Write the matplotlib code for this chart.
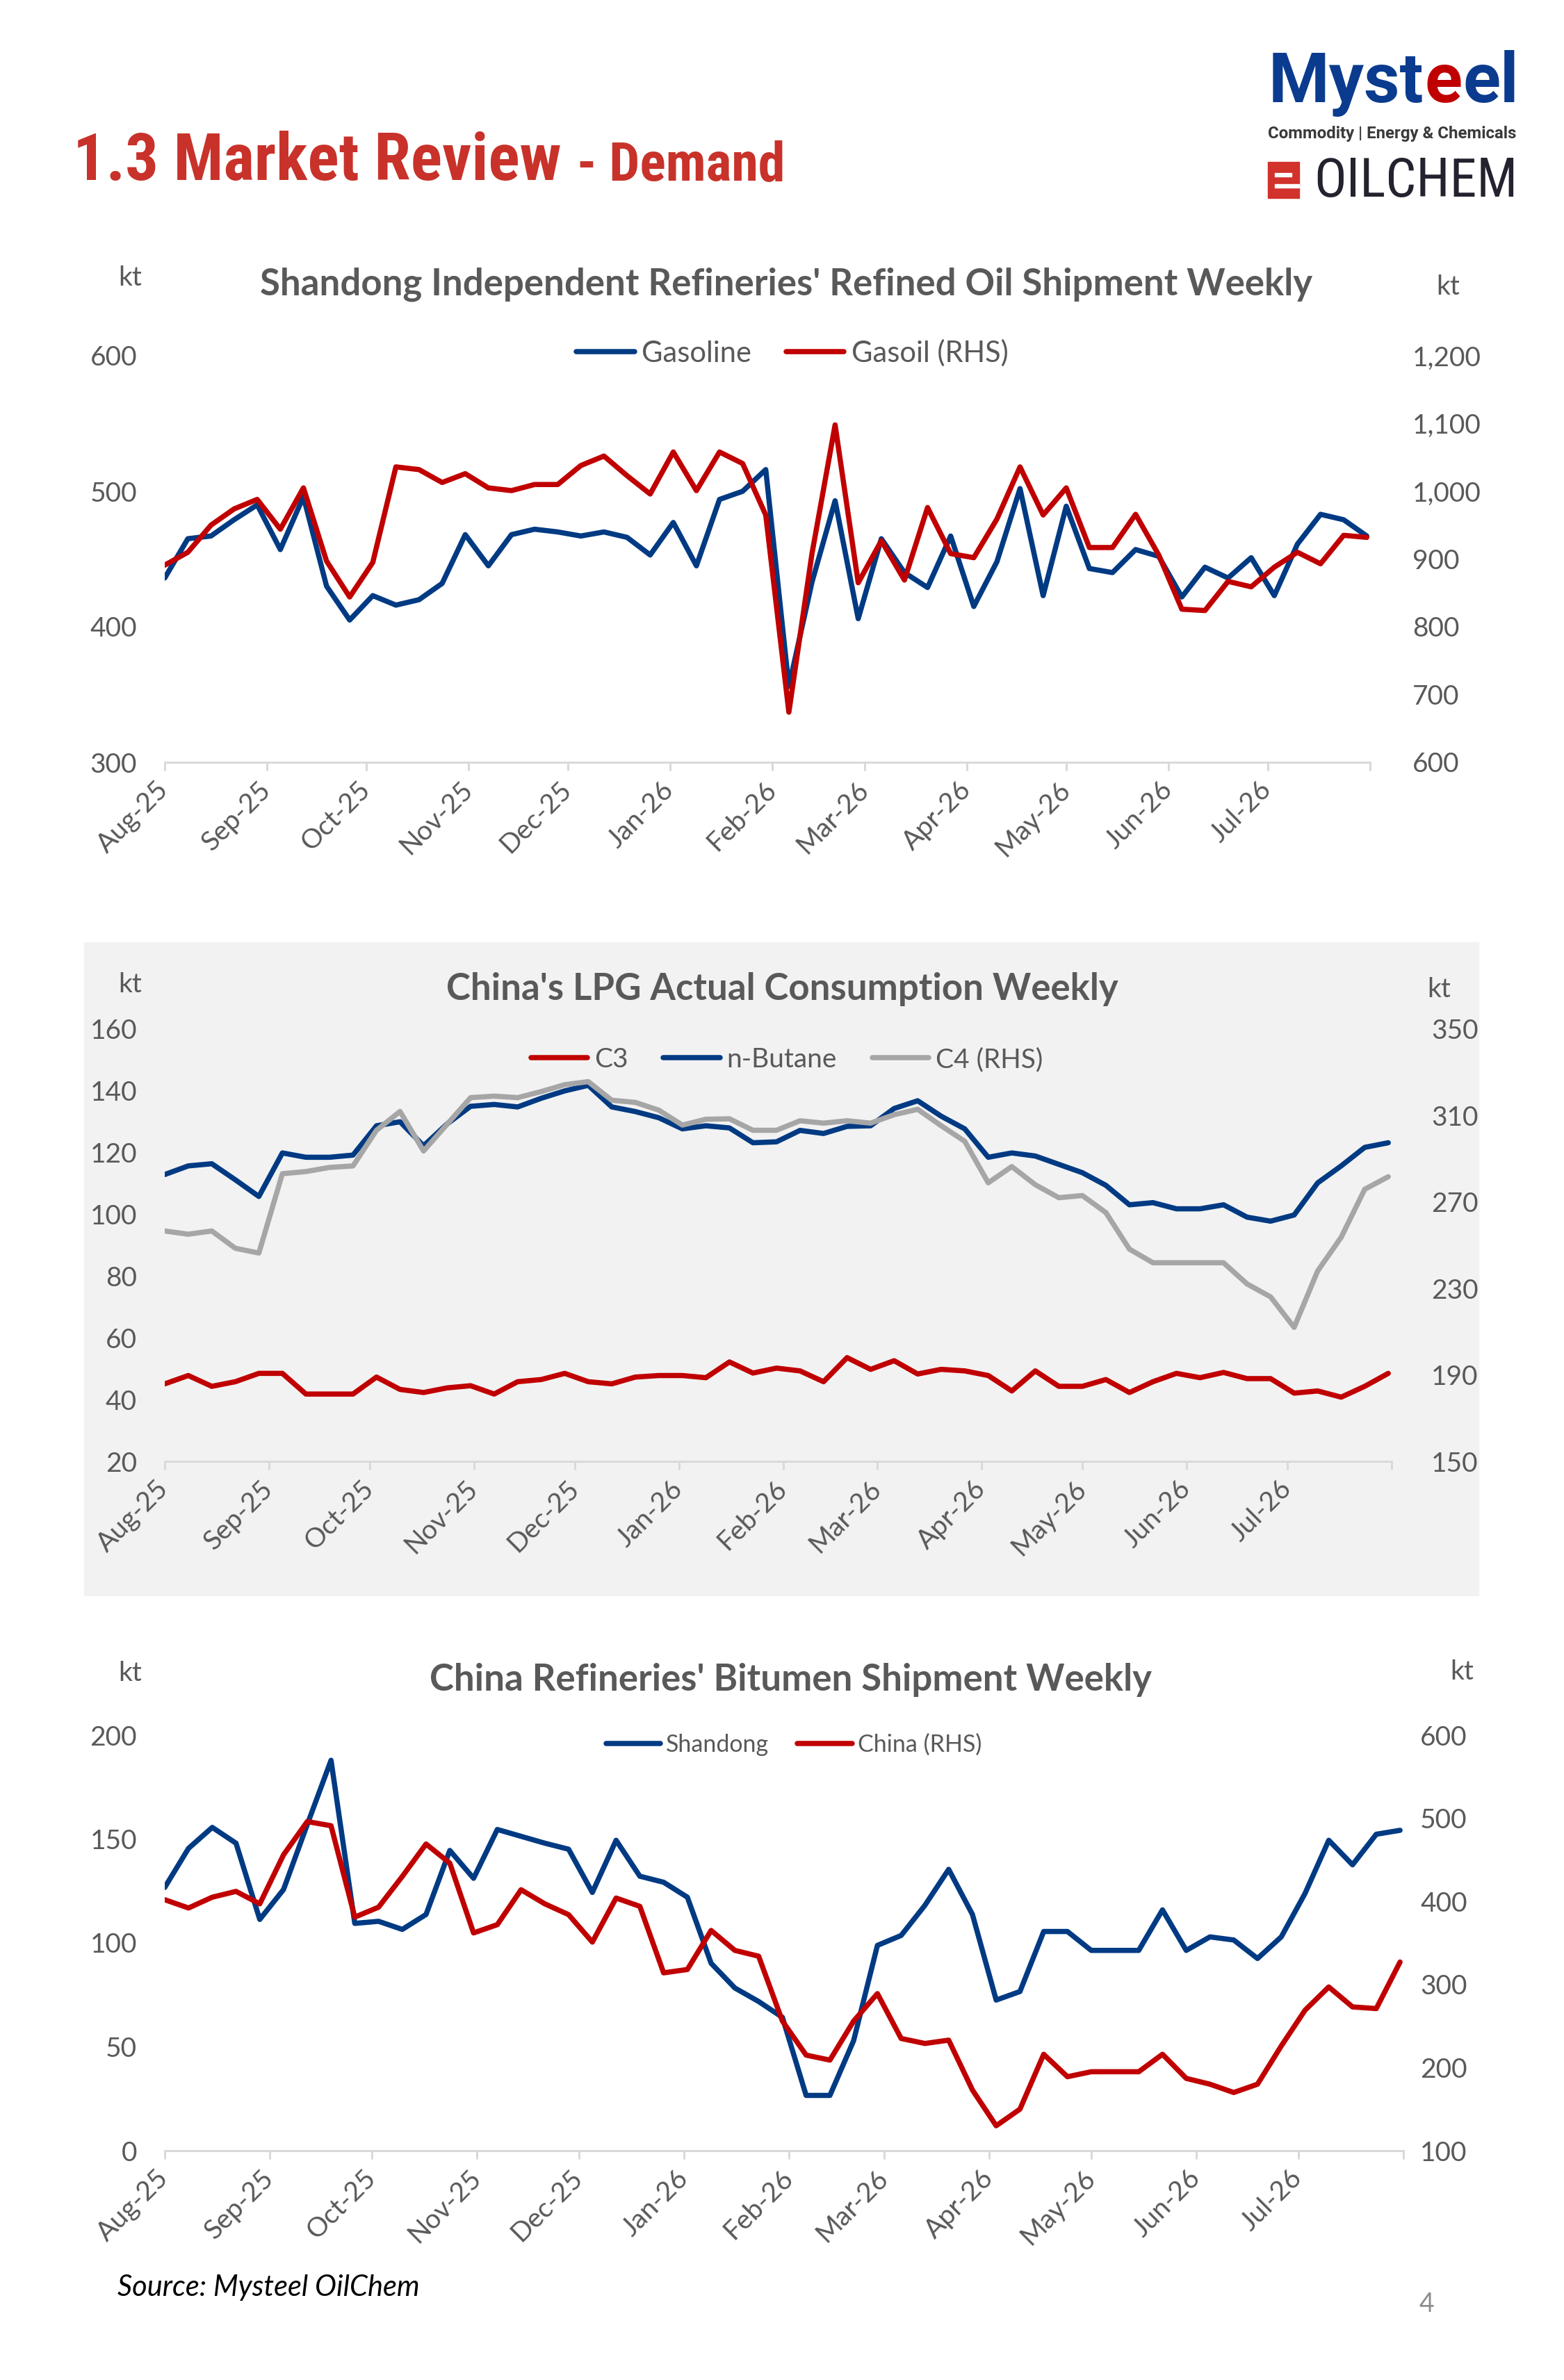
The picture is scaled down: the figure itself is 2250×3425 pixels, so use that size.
import pandas as pd
import matplotlib
matplotlib.use('Agg')
import matplotlib.pyplot as plt
from matplotlib import font_manager
from matplotlib.patches import Rectangle

plt.rcParams['font.family'] = ['Lato', 'DejaVu Sans']

W, H = 2250, 3425

# weekly dates and month ticks
weeks = pd.date_range('2025-08-01', periods=53, freq='7D')
month_ticks = pd.date_range('2025-08-01', '2026-08-01', freq='MS')
month_labels = [d.strftime('%b-%y') for d in month_ticks[:-1]] + ['']

# chart 1: Shandong refined oil shipment (kt)
gasoline = [436, 465, 467, 479, 490, 457, 496, 430, 405, 423, 416, 420, 432, 468,
            445, 468, 472, 470, 467, 470, 466, 453, 477, 445, 494, 500, 516, 356,
            433, 493, 406, 465, 440, 429, 467, 415, 448, 502, 423, 489, 443, 440,
            457, 452, 422, 444, 436, 451, 423, 461, 483, 479, 467]
gasoil = [891, 910, 950, 974, 988, 944, 1005, 897, 844, 895, 1036, 1032, 1013, 1026,
          1005, 1001, 1010, 1010, 1038, 1052, 1023, 996, 1058, 1001, 1058, 1041, 965, 674,
          908, 1098, 865, 927, 869, 976, 908, 902, 959, 1036, 965, 1005, 917, 917,
          966, 906, 826, 824, 867, 859, 888, 910, 893, 935, 932]

# chart 2: China LPG actual consumption (kt)
c3 = [45.1, 47.8, 44.3, 45.8, 48.5, 48.5, 41.8, 41.8, 41.8, 47.3, 43.3, 42.3, 43.8, 44.5,
      41.8, 45.8, 46.5, 48.5, 45.8, 45.1, 47.3, 47.8, 47.8, 47.1, 52.2, 48.6, 50.2, 49.3,
      45.8, 53.6, 49.8, 52.6, 48.3, 49.8, 49.3, 47.8, 42.8, 49.3, 44.3, 44.3, 46.5, 42.3,
      45.8, 48.5, 47.1, 48.8, 46.8, 46.8, 42.1, 42.8, 40.8, 44.3, 48.5]
n_butane = [112.9, 115.7, 116.4, 111.2, 105.8, 119.9, 118.5, 118.5, 119.2, 128.7, 130.0, 122.2,
            129.3, 135.0, 135.6, 134.8, 137.6, 140.0, 141.8, 134.8, 133.3, 131.3, 127.7, 128.7,
            128.0, 123.2, 123.5, 127.2, 126.2, 128.5, 128.7, 134.3, 136.8, 131.8, 127.7, 118.5,
            119.9, 118.9, 116.2, 113.5, 109.4, 103.1, 103.8, 101.8, 101.8, 103.1, 99.1, 97.8,
            99.8, 110.2, 115.7, 121.7, 123.2]
c4 = [256.6, 255.1, 256.6, 248.6, 246.4, 283.1, 284.1, 286.0, 286.7, 303.2, 311.9, 293.6,
      306.0, 318.3, 319.0, 318.3, 321.1, 324.3, 325.7, 317.1, 316.1, 312.5, 305.6, 308.3,
      308.5, 303.2, 303.2, 307.6, 306.5, 307.6, 306.5, 310.4, 312.9, 305.3, 298.1, 278.9,
      286.4, 278.0, 272.0, 273.0, 265.1, 248.2, 241.9, 241.9, 241.9, 241.9, 232.1, 226.1,
      212.0, 238.1, 253.7, 275.9, 281.7]

# chart 3: China refineries bitumen shipment (kt)
shandong = [126.7, 145.5, 155.6, 148.0, 111.3, 125.7, 157.0, 187.9, 109.4, 110.4, 106.5, 113.7,
            144.5, 131.1, 154.6, 151.3, 148.0, 145.1, 124.3, 149.4, 132.1, 129.2, 122.0, 90.2,
            78.3, 71.8, 64.2, 26.6, 26.6, 53.0, 98.8, 103.6, 118.1, 135.4, 113.7, 72.5,
            76.6, 105.5, 105.5, 96.4, 96.4, 96.4, 115.9, 96.4, 102.9, 101.4, 92.5, 102.9,
            123.8, 149.4, 137.6, 152.3, 154.2]
china = [402, 392, 405, 412, 397, 456, 496, 491, 381, 393, 430, 469, 446, 362,
         372, 414, 397, 384, 351, 404, 394, 314, 318, 365, 341, 334, 256, 215,
         209, 256, 289, 235, 229, 233, 173, 130, 150, 216, 189, 195, 195, 195,
         216, 187, 180, 170, 180, 226, 269, 297, 273, 271, 327]

TXT = '#595959'
BLUE = '#003A83'
RED = '#C00000'
LGRAY = '#A6A6A6'
AXIS = '#D9D9D9'
FS = 28
PX = 0.72  # points per pixel at dpi 100
LW = 5.4

installed = {f.name for f in font_manager.fontManager.ttflist}


def pick(*names):
    for n in names:
        if n in installed:
            return n
    return 'DejaVu Sans'


NARROW = pick('Liberation Sans Narrow', 'Roboto Condensed', 'Open Sans Condensed', 'Roboto')
LOGO = pick('Roboto', 'Open Sans', 'DejaVu Sans')

fig = plt.figure(figsize=(W / 100, H / 100), dpi=100)


def fy(y):
    return 1 - y / H


def fit_text(x, y, s, width, size, **kw):
    # shrink or grow the font so the text spans the given pixel width
    t = fig.text(x / W, fy(y), s, fontsize=size, **kw)
    fig.canvas.draw()
    w = t.get_window_extent().width
    t.set_fontsize(size * width / w)
    return t


def add_box(left, top, right, bottom):
    return fig.add_axes([left / W, fy(bottom), (right - left) / W, (bottom - top) / H])


def setup(ax, ax2, ylim, yticks, ylim2, yticks2, fmt2, rpad):
    ax.set_xlim(month_ticks[0], month_ticks[-1])
    ax.set_ylim(*ylim)
    ax.set_yticks(yticks)
    ax2.set_ylim(*ylim2)
    ax2.set_yticks(yticks2)
    ax2.set_yticklabels([fmt2.format(v) for v in yticks2])
    for a in (ax, ax2):
        a.patch.set_visible(False)
        for s in a.spines.values():
            s.set_visible(False)
    ax.spines['bottom'].set_visible(True)
    ax.spines['bottom'].set_color(AXIS)
    ax.spines['bottom'].set_linewidth(3 * PX)
    ax.tick_params(axis='y', length=0, pad=40 * PX, labelsize=FS, labelcolor=TXT)
    ax2.tick_params(axis='y', length=0, pad=rpad * PX, labelsize=FS, labelcolor=TXT)
    ax.set_xticks(month_ticks)
    ax.set_xticklabels(month_labels, rotation=45, ha='right', va='center',
                       rotation_mode='anchor')
    ax.tick_params(axis='x', length=12 * PX, width=3 * PX, color=AXIS, pad=22 * PX,
                   labelsize=FS, labelcolor=TXT)


def line(ax, y, color):
    h, = ax.plot(weeks, y, color=color, lw=LW, solid_joinstyle='round',
                 solid_capstyle='round')
    return h


def legend(handles, labels, cx, cy, fs, hl, cs):
    fig.legend(handles, labels, loc='center', bbox_to_anchor=(cx / W, fy(cy)),
               ncol=len(labels), frameon=False, fontsize=fs, handlelength=hl,
               handletextpad=0.25, columnspacing=cs, labelcolor=TXT)


def titles(title, tx, ty, kl, kr):
    fig.text(tx / W, fy(ty), title, ha='center', va='center', fontsize=38,
             fontweight='bold', color=TXT)
    fig.text(kl[0] / W, fy(kl[1]), 'kt', ha='center', va='center', fontsize=FS, color=TXT)
    fig.text(kr[0] / W, fy(kr[1]), 'kt', ha='center', va='center', fontsize=FS, color=TXT)


# heading
head = dict(color='#C8322A', fontweight='bold', family=[NARROW, 'DejaVu Sans'])
fit_text(105, 259, '1.3 Market Review', 703, 70, **head)
fit_text(830, 259, '- Demand', 299, 57, **head)

# logo
logo = dict(fontweight='bold', family=[LOGO, 'DejaVu Sans'])
probe = fit_text(1825, 147, 'Mysteel', 358, 80, color='none', **logo)
size = probe.get_fontsize()
probe.remove()
x = 1825
for part, col in [('Myst', '#0B3B8F'), ('e', '#C00000'), ('el', '#0B3B8F')]:
    t = fig.text(x / W, fy(147), part, color=col, fontsize=size, **logo)
    fig.canvas.draw()
    x = t.get_window_extent().x1 + 1
fit_text(1824, 199, 'Commodity | Energy & Chemicals', 359, 15, color='#3A3A3A', **logo)
fig.patches.append(Rectangle((1824 / W, fy(285)), 45 / W, 52 / H, transform=fig.transFigure,
                             color='#D1322B', zorder=3))
fig.patches.append(Rectangle((1834 / W, fy(254)), 24 / W, 5 / H, transform=fig.transFigure,
                             color='white', zorder=4))
fig.patches.append(Rectangle((1834 / W, fy(270)), 35 / W, 5 / H, transform=fig.transFigure,
                             color='white', zorder=4))
fit_text(1890, 283, 'OILCHEM', 293, 45, color='#24222E', family=[NARROW, 'DejaVu Sans'])

# ---- chart 1 ----
ax = add_box(237, 512, 1971, 1097)
ax2 = ax.twinx()
h1 = line(ax, gasoline, BLUE)
h2 = line(ax2, gasoil, RED)
setup(ax, ax2, (300, 600), [300, 400, 500, 600], (600, 1200),
      list(range(600, 1201, 100)), '{:,}', 61)
titles("Shandong Independent Refineries' Refined Oil Shipment Weekly", 1131, 409,
       (187, 400), (2083, 413))
legend([h1, h2], ['Gasoline', 'Gasoil (RHS)'], 1140, 508, 30, 2.0, 1.2)

# ---- chart 2 ----
fig.patches.append(Rectangle((121 / W, fy(2296)), (2127 - 121) / W, (2296 - 1356) / H,
                             transform=fig.transFigure, color='#F2F2F2', zorder=-5))
ax = add_box(237, 1481, 2002, 2103)
ax2 = ax.twinx()
g1 = line(ax, c3, RED)
g2 = line(ax, n_butane, BLUE)
g3 = line(ax2, c4, LGRAY)
setup(ax, ax2, (20, 160), list(range(20, 161, 20)), (150, 350),
      list(range(150, 351, 40)), '{}', 57)
titles("China's LPG Actual Consumption Weekly", 1125, 1424, (187, 1417), (2070, 1424))
legend([g1, g2, g3], ['C3', 'n-Butane', 'C4 (RHS)'], 1132, 1525, FS, 2.1, 1.3)

# ---- chart 3 ----
ax = add_box(237, 2497, 2019, 3095)
ax2 = ax.twinx()
b1 = line(ax, shandong, BLUE)
b2 = line(ax2, china, RED)
setup(ax, ax2, (0, 200), list(range(0, 201, 50)), (100, 600),
      list(range(100, 601, 100)), '{}', 24)
titles("China Refineries' Bitumen Shipment Weekly", 1138, 2417, (187, 2408), (2103, 2406))
legend([b1, b2], ['Shandong', 'China (RHS)'], 1142, 2511, 24.5, 2.3, 1.2)

fig.text(169 / W, fy(3292), 'Source: Mysteel OilChem', ha='left', va='center',
         fontsize=30, style='italic', color='black')
fig.text(2052 / W, fy(3316), '4', ha='center', va='center', fontsize=27, color='#8C8C8C')

fig.savefig('out.png', dpi=100)
